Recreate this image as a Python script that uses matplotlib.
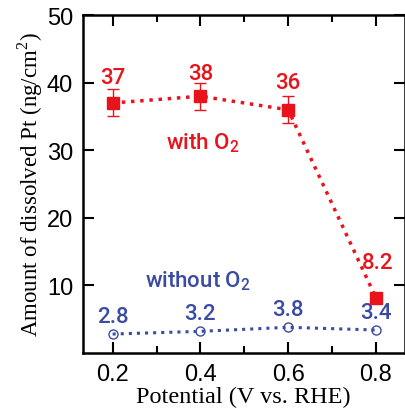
import matplotlib
matplotlib.use("Agg")
import matplotlib.pyplot as plt
from matplotlib.ticker import MultipleLocator

potential=[0.2,0.4,0.6,0.8]
with_o2=[37,38,36,8.2]
with_o2_err=[2,2,2,0]
without_o2=[2.8,3.2,3.8,3.4]
with_labels=["37","38","36","8.2"]
without_labels=["2.8","3.2","3.8","3.4"]

red="#e8131b"
blue="#3b4ba3"
sans=["Liberation Sans","DejaVu Sans"]
lab_font=["Roboto","Liberation Sans","DejaVu Sans"]
serif=["Liberation Serif","DejaVu Serif"]

fig=plt.figure(figsize=(4.06,4.14),dpi=100)
ax=fig.add_axes([0.204,0.145,0.793,0.816])

ax.errorbar(potential,with_o2,yerr=with_o2_err,fmt="s",color=red,ms=9,
            elinewidth=1,capsize=4,capthick=1,zorder=3)
ax.plot(potential,with_o2,":",color=red,lw=2.5,zorder=2)
ax.plot(potential,without_o2,":",color=blue,lw=2.2,marker="o",ms=6.5,
        mfc="none",mec=blue,mew=1,zorder=2)

# value labels
dy_red=[3.8,3.4,4.1,5.2]
dx_red=[0,0,0,0.004]
for x,y,t,d,e in zip(potential,with_o2,with_labels,dy_red,dx_red):
    ax.text(x+e,y+d,t,color=red,fontsize=16,family=lab_font,fontweight="medium",
            ha="center",va="center")
for x,y,t in zip(potential,without_o2,without_labels):
    ax.text(x,y+2.6,t,color=blue,fontsize=16,family=lab_font,fontweight="medium",
            ha="center",va="center")

ax.text(0.405,31.2,r"with O$_\mathregular{2}$",color=red,fontsize=16,fontweight="medium",
        family=lab_font,ha="center",va="center")
ax.text(0.395,10.8,r"without O$_\mathregular{2}$",color=blue,fontsize=16,fontweight="medium",
        family=lab_font,ha="center",va="center")

ax.set_xlim(0.132,0.866)
ax.set_ylim(0,50)
ax.xaxis.set_major_locator(MultipleLocator(0.2))
ax.xaxis.set_minor_locator(MultipleLocator(0.1))
ax.set_yticks([10,20,30,40,50])
ax.tick_params(which="both",direction="in",top=True,right=True,width=1.5)
ax.tick_params(which="major",length=8,labelsize=17,pad=7)
ax.tick_params(which="minor",length=5)
for lab in ax.get_xticklabels()+ax.get_yticklabels():
    lab.set_family(sans)
for s in ax.spines.values():
    s.set_linewidth(1.8)

ax.set_xlabel("Potential (V vs. RHE)",family=serif,fontsize=17.5,labelpad=1)
ax.set_ylabel(r"Amount of dissolved Pt (ng/cm$^\mathregular{2}$)",family=serif,fontsize=16.5,labelpad=1)

fig.savefig("out.png",dpi=100)
